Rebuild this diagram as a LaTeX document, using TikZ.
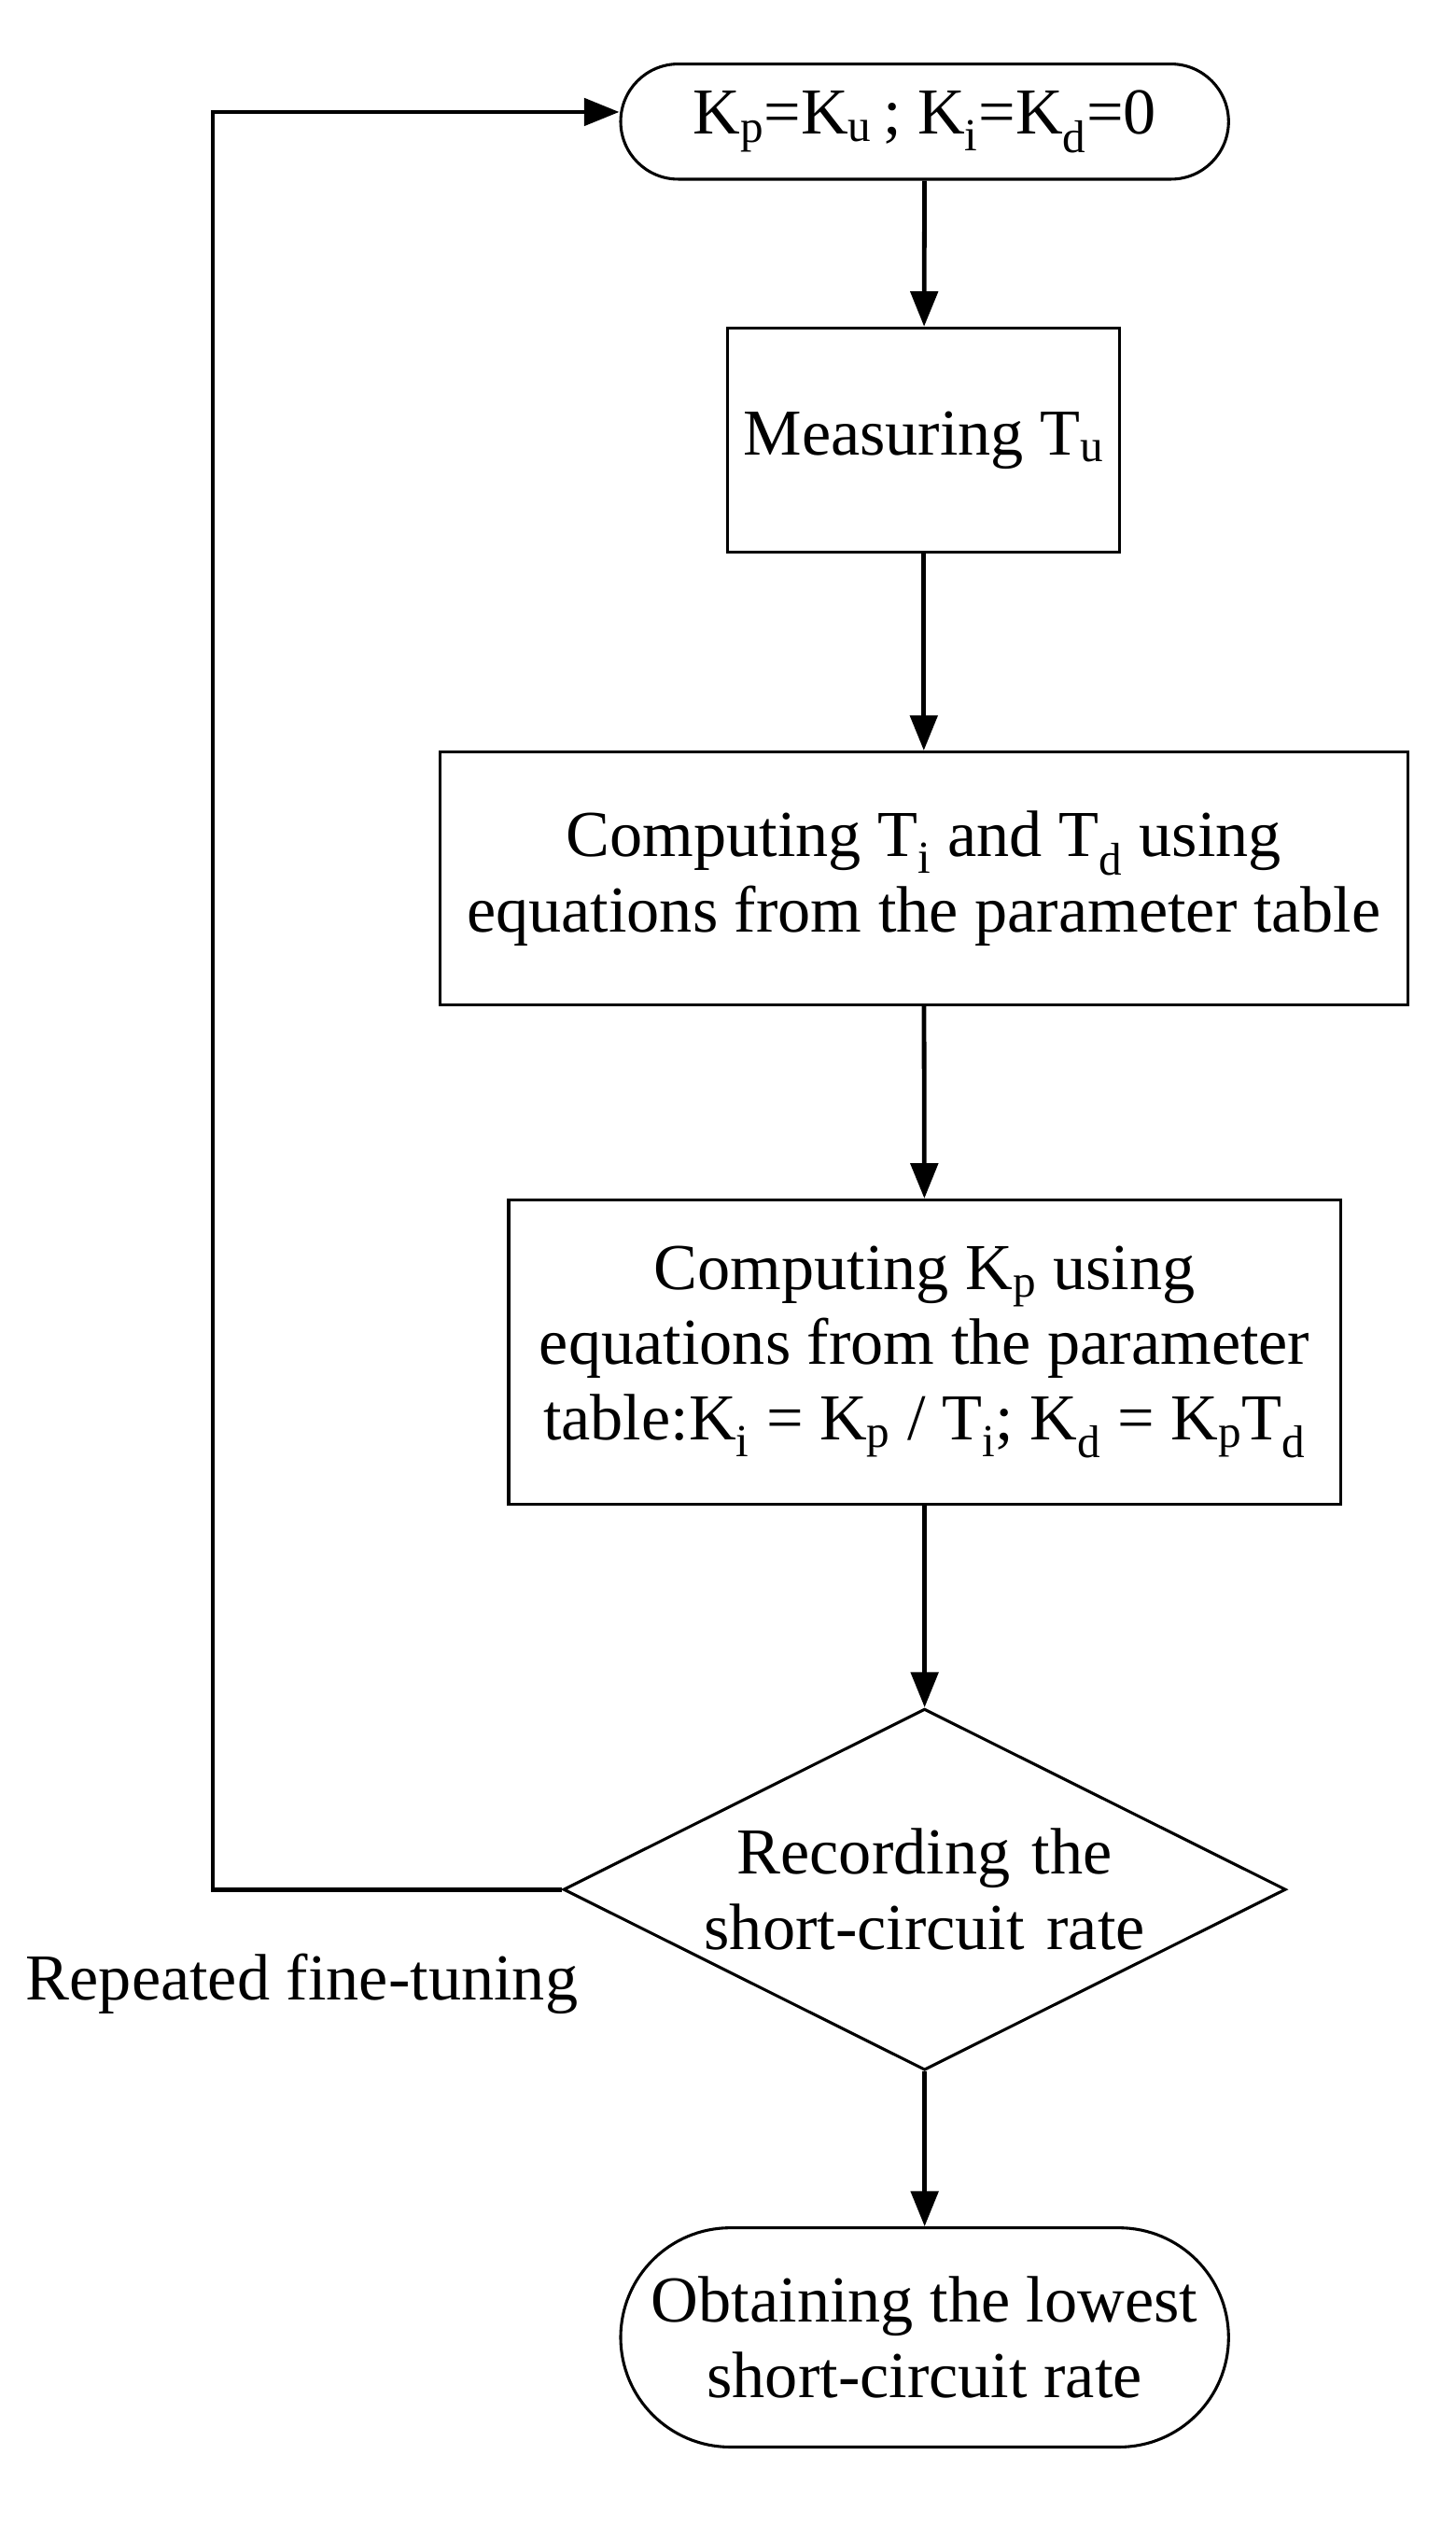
\documentclass[tikz,border=0pt]{standalone}
\usepackage{fontspec}
\setmainfont{Liberation Serif}
\usetikzlibrary{shapes.geometric,shapes.misc,arrows.meta}
\begin{document}
\begin{tikzpicture}[x=1pt,y=-1pt,
  every node/.style={font=\fontsize{41}{47}\selectfont, align=center, line width=1.8pt},
  box/.style={draw, rectangle, inner sep=0pt},
  term/.style={draw, rounded rectangle, inner sep=0pt},
  arr/.style={line width=2.8pt, -{Triangle[length=22pt,width=17pt]}}]
\useasboundingbox (0,0) rectangle (910,1587);
\node[term, minimum width=380pt, minimum height=72pt] (t1) at (578,76) {K\textsubscript{p}=K\textsubscript{u}\,; K\textsubscript{i}=K\textsubscript{d}=0};
\node[box, minimum width=245pt, minimum height=140pt] (m) at (577.5,275) {Measuring T\textsubscript{u}};
\node[box, minimum width=605pt, minimum height=158pt] (c1) at (577.5,549) {Computing T\textsubscript{i} and T\textsubscript{d} using\\equations from the parameter table};
\node[box, minimum width=520pt, minimum height=190pt] (c2) at (578,845) {Computing K\textsubscript{p} using\\equations from the parameter\\table:K\textsubscript{i} = K\textsubscript{p} / T\textsubscript{i}; K\textsubscript{d} = K\textsubscript{p}T\textsubscript{d}};
\node[draw, diamond, minimum width=380pt, minimum height=187pt, inner sep=0pt, aspect=2, text width=300pt] (d) at (578,1181) {Recording the\\short-circuit rate};
\node[term, minimum width=380pt, minimum height=137pt] (t2) at (578,1461) {Obtaining the lowest\\short-circuit rate};
\node[anchor=west] (lab) at (12,1240) {Repeated fine-tuning};
\coordinate (a) at (133,1181);
\coordinate (b) at (133,70);
\draw[arr] (t1) -- (m);
\draw[arr] (m) -- (c1);
\draw[arr] (c1) -- (c2);
\draw[arr] (c2) -- (d);
\draw[arr] (d) -- (t2);
\draw[arr] (d.west) -- (a) -- (b) -- (t1.west |- b);
\end{tikzpicture}
\end{document}
